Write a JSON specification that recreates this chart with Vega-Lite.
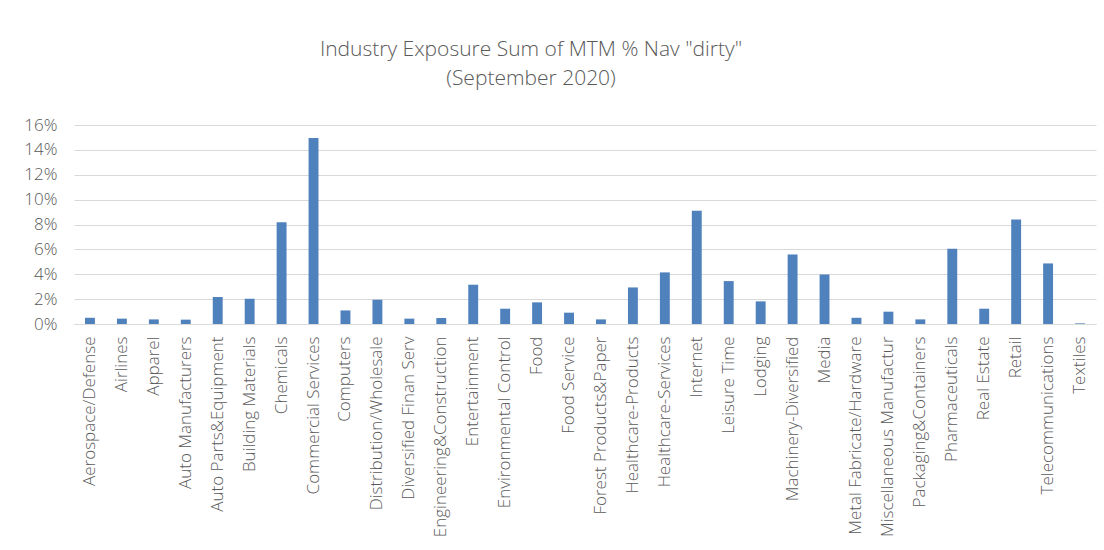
{
  "$schema": "https://vega.github.io/schema/vega-lite/v6.json",
  "autosize": {"type": "none"},
  "width": 1022,
  "height": 199,
  "padding": {"left": 74, "top": 125, "right": 8, "bottom": 226},
  "background": "white",
  "title": {
    "text": ["Industry Exposure Sum of MTM % Nav \"dirty\"", "(September 2020)"],
    "font": "Open Sans",
    "fontSize": 21,
    "fontWeight": 300,
    "color": "#595959",
    "anchor": "middle",
    "lineHeight": 29,
    "offset": 27,
    "dx": -54
  },
  "data": {
    "values": [
      {"industry": "Aerospace/Defense", "value": 0.0050},
      {"industry": "Airlines", "value": 0.0043},
      {"industry": "Apparel", "value": 0.0037},
      {"industry": "Auto Manufacturers", "value": 0.0035},
      {"industry": "Auto Parts&Equipment", "value": 0.0217},
      {"industry": "Building Materials", "value": 0.0203},
      {"industry": "Chemicals", "value": 0.0819},
      {"industry": "Commercial Services", "value": 0.1496},
      {"industry": "Computers", "value": 0.0109},
      {"industry": "Distribution/Wholesale", "value": 0.0195},
      {"industry": "Diversified Finan Serv", "value": 0.0043},
      {"industry": "Engineering&Construction", "value": 0.0048},
      {"industry": "Entertainment", "value": 0.0316},
      {"industry": "Environmental Control", "value": 0.0123},
      {"industry": "Food", "value": 0.0174},
      {"industry": "Food Service", "value": 0.0091},
      {"industry": "Forest Products&Paper", "value": 0.0037},
      {"industry": "Healthcare-Products", "value": 0.0294},
      {"industry": "Healthcare-Services", "value": 0.0415},
      {"industry": "Internet", "value": 0.0910},
      {"industry": "Leisure Time", "value": 0.0345},
      {"industry": "Lodging", "value": 0.0182},
      {"industry": "Machinery-Diversified", "value": 0.0559},
      {"industry": "Media", "value": 0.0398},
      {"industry": "Metal Fabricate/Hardware", "value": 0.0050},
      {"industry": "Miscellaneous Manufactur", "value": 0.0099},
      {"industry": "Packaging&Containers", "value": 0.0037},
      {"industry": "Pharmaceuticals", "value": 0.0605},
      {"industry": "Real Estate", "value": 0.0123},
      {"industry": "Retail", "value": 0.0840},
      {"industry": "Telecommunications", "value": 0.0487},
      {"industry": "Textiles", "value": 0.0005}
    ]
  },
  "mark": {"type": "bar", "color": "#4f81bd"},
  "encoding": {
    "x": {
      "field": "industry",
      "type": "nominal",
      "sort": null,
      "scale": {"paddingInner": 0.69, "paddingOuter": 0.345},
      "axis": {
        "title": null,
        "labelAngle": -90,
        "labelAlign": "right",
        "labelBaseline": "middle",
        "labelFont": "Open Sans",
        "labelFontWeight": 300,
        "labelFontSize": 17,
        "labelColor": "#595959",
        "labelPadding": 12,
        "ticks": false,
        "domainColor": "#d9d9d9",
        "domainWidth": 1,
        "labelOverlap": false,
        "labelLimit": 300
      }
    },
    "y": {
      "field": "value",
      "type": "quantitative",
      "scale": {"domain": [0, 0.16], "nice": false},
      "axis": {
        "title": null,
        "format": ".0%",
        "values": [0, 0.02, 0.04, 0.06, 0.08, 0.1, 0.12, 0.14, 0.16],
        "labelFont": "Open Sans",
        "labelFontWeight": 300,
        "labelFontSize": 17,
        "labelColor": "#595959",
        "labelPadding": 17,
        "ticks": false,
        "domain": false,
        "grid": true,
        "gridColor": "#d9d9d9",
        "gridWidth": 1
      }
    }
  },
  "config": {
    "view": {"stroke": null}
  }
}
